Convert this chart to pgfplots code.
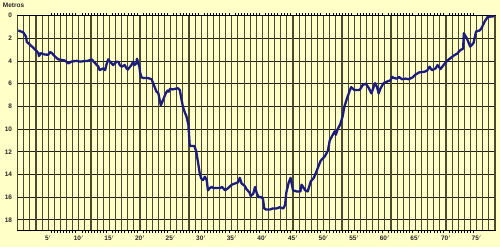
\documentclass[border=0pt]{standalone}
\usepackage{pgfplots}
\pgfplotsset{compat=1.18}
\usepackage{fontspec}
\setmainfont{Liberation Sans}
\definecolor{bg}{HTML}{FFFFC8}
\definecolor{gridv}{HTML}{4A4A30}
\definecolor{gridh}{HTML}{202010}
\definecolor{navy}{HTML}{1C1C7C}
\begin{document}
\begin{tikzpicture}[x=1pt,y=1pt]
\fill[bg] (-17.6,-17) rectangle (482.4,230);
\begin{axis}[
  at={(0,0)}, anchor=south west,
  scale only axis, width=477.4pt, height=214.3pt,
  xmin=0, xmax=78, ymin=0, ymax=18.9, y dir=reverse,
  axis background/.style={fill=bg},
  axis line style={black, line width=1pt},
  xtick={5,10,...,75},
  xticklabel={\pgfmathprintnumber{\tick}$'$},
  minor x tick num=9,
  extra x ticks={0,1,...,78},
  extra x tick labels={},
  extra x tick style={grid=major, major grid style={gridv, line width=1.1pt}, tick style={draw=none}},
  ytick={0,2,...,18},
  xmajorgrids=false, ymajorgrids=true,
  major grid style={gridh, line width=0.9pt},
  tick align=outside,
  x tick style={black, line width=0.5pt},
  major tick length=0pt,
  minor tick length=2.5pt,
  minor x tick style={black, line width=0.5pt},
  y tick style={draw=none},
  tick label style={font=\bfseries\fontsize{6.5}{7}\selectfont, text=black!85},
  xticklabel style={yshift=-2pt},
  yticklabel style={xshift=-2pt},
  /pgf/number format/assume math mode=true,
  clip=false,
]
\addplot[navy, line width=2.3pt, line join=round] coordinates {
(0.1,1.3)(0.93,1.47)(1.37,1.85)(1.5,2.3)(2.3,2.7)(2.84,2.97)(3.4,3.3)(3.5,3.55)(3.8,3.3)(4.2,3.4)(5.0,3.45)(5.3,3.2)(5.6,3.3)(6.1,3.6)(6.65,3.85)(7.2,3.9)(7.7,3.95)(8.3,4.2)(8.8,4.05)(9.6,3.98)(10.2,4.05)(11,4.0)(11.5,3.98)(12.1,3.85)(12.6,4.15)(13.2,4.5)(13.4,4.8)(13.98,4.65)(14.3,4.8)(14.5,4.35)(14.8,3.85)(15.1,4.05)(15.6,4.35)(15.9,4.2)(16.2,4.05)(16.5,4.1)(16.7,4.35)(17,4.5)(17.5,4.35)(17.8,4.65)(18,4.75)(18.6,4.35)(18.9,4.05)(19.1,4.35)(19.4,4.2)(19.5,3.8)(19.9,4.5)(20,4.95)(20.2,5.4)(20.5,5.5)(21.3,5.5)(21.9,5.6)(22.1,5.9)(22.4,6.3)(22.7,6.7)(23,6.85)(23.2,7.4)(23.4,7.9)(23.8,7.4)(24.2,6.85)(24.5,6.6)(24.7,6.7)(24.9,6.45)(25.3,6.5)(26.2,6.4)(26.5,6.55)(26.8,7.45)(27.0,8.0)(27.3,8.5)(27.6,8.9)(27.9,9.6)(28.0,10.4)(28.1,11.3)(28.2,11.5)(28.9,11.5)(29.2,12.0)(29.5,13.0)(29.75,13.9)(30.0,14.35)(30.3,14.5)(30.6,14.2)(30.9,14.5)(31.1,15.4)(31.4,15.2)(31.7,15.1)(32.0,15.2)(32.5,15.2)(33.1,15.2)(33.4,15.1)(33.9,15.4)(34.4,15.2)(35.0,14.9)(35.5,14.8)(36.0,14.7)(36.3,14.3)(36.6,14.8)(37.1,15.0)(37.4,15.3)(37.9,15.6)(38.1,15.9)(38.5,15.7)(38.8,15.1)(39.1,15.7)(39.4,16.0)(39.9,16.0)(40.1,16.2)(40.3,17.0)(40.6,17.1)(41.2,17.1)(41.7,17.0)(42.3,17.0)(42.8,16.9)(43.4,17.0)(43.7,16.7)(43.9,15.6)(44.3,14.7)(44.6,14.3)(45.0,15.4)(45.6,15.5)(46.2,15.5)(46.4,14.9)(47.0,15.4)(47.4,15.5)(47.9,14.6)(48.4,14.3)(49.0,13.5)(49.5,12.8)(50.2,12.4)(50.7,11.9)(51.0,11.0)(51.5,10.5)(51.8,10.2)(52.0,10.5)(52.3,10.0)(52.7,9.6)(53.1,8.9)(53.4,8.0)(53.7,7.5)(54.2,6.7)(54.5,6.3)(55.0,6.55)(55.9,6.55)(56.4,6.1)(56.9,6.0)(57.4,6.4)(57.8,6.85)(58.1,6.4)(58.4,5.95)(58.7,6.25)(59.0,6.85)(59.3,6.4)(59.8,5.95)(60.4,5.8)(60.9,5.7)(61.2,5.4)(61.5,5.5)(62.0,5.55)(62.3,5.4)(62.8,5.6)(63.4,5.55)(63.9,5.6)(64.5,5.45)(65.0,5.2)(65.6,5.0)(66.4,4.95)(66.9,4.85)(67.3,4.5)(67.7,4.8)(68.3,4.65)(68.6,4.35)(69.1,4.7)(69.6,4.35)(70.2,3.97)(70.7,3.75)(71.3,3.5)(71.8,3.35)(72.3,3.05)(72.8,2.9)(72.9,1.55)(73.4,2.0)(73.95,2.73)(74.5,2.4)(74.9,1.4)(75.5,1.3)(75.8,1.1)(76.3,0.53)(76.8,0.1)(77.9,0.05)
};
\end{axis}
\node[font=\bfseries\fontsize{6.5}{7}\selectfont, text=black!85, anchor=center] at (-4,224.5) {Metros};
\pgfresetboundingbox
\path (-17.6,-17) rectangle (482.4,230);
\end{tikzpicture}
\end{document}
